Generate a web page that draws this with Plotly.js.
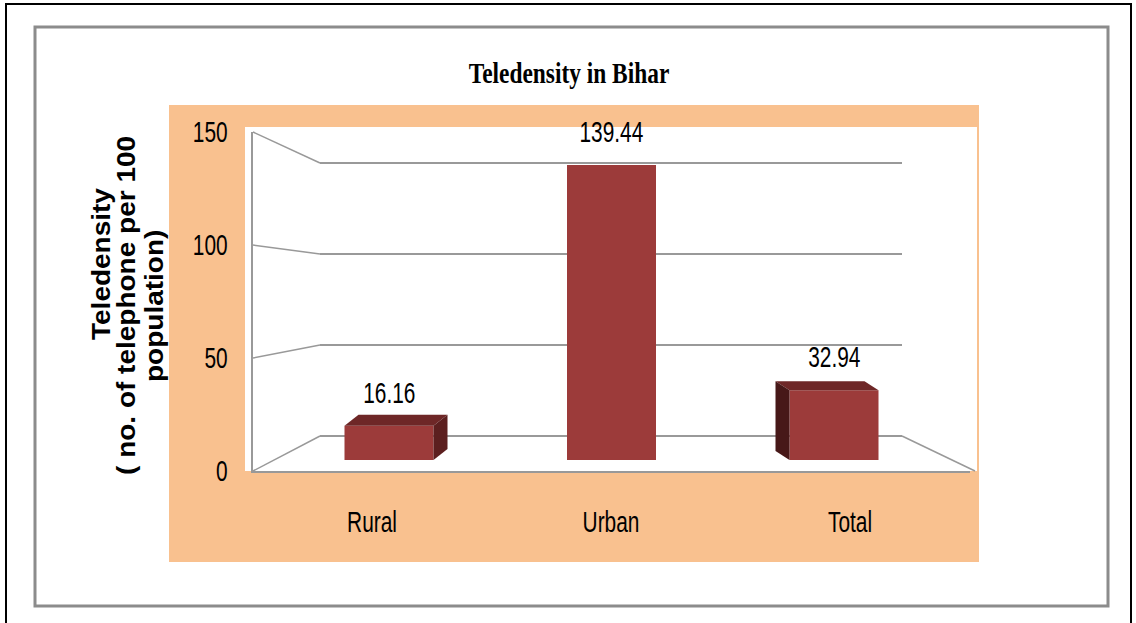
<!DOCTYPE html>
<html>
<head>
<meta charset="utf-8">
<script src="https://cdn.plot.ly/plotly-3.0.1.min.js"></script>
<style>
  html, body { margin: 0; padding: 0; background: #ffffff; }
  #chart { width: 1136px; height: 623px; }
</style>
</head>
<body>
<div id="chart"></div>
<script>
// ---- data ----
const categories = ['Rural', 'Urban', 'Total'];
const teledensity = [16.16, 139.44, 32.94];
const valueLabels = ['16.16', '139.44', '32.94'];
const yTicks = [0, 50, 100, 150];
const chartTitle = 'Teledensity in Bihar';
const yTitleLines = ['Teledensity', '( no. of telephone per 100', 'population)'];

// ---- geometry / style ----
const W = 1136, H = 623;
const px = x => x / W;
const py = y => 1 - y / H;
const sans = "'Liberation Sans', Arial, sans-serif";
const peach = '#f9c18f';
const gridCol = '#999999';
const frontCol = '#9c3b3a', topCol = '#6e2727', sideRight = '#5c1f1f', sideLeft = '#471818';

// bar (front face) scale: 0 at 460px, px per unit
const barZero = 460, barK = 295 / 139.44;
const barTopPx = 127, barBotPx = 471;
const catStep = 222.5, firstCentre = 389;
const barWidth = 0.4;
const depthDx = [14, 0, -14];
const depthUp = [11, 0, 9];

// front (label) plane and back wall
const fZero = 471, fTop = 132;
const bZero = 436, bK = 1.82;
const backLeft = 320, backRight = 902, frontLeft = 253, frontRight = 975;

// y-title line placement (page px)
const yTitleX = [101, 126, 154];
const yTitleY = [264, 306, 306];

const idx = categories.map((c, i) => i);

const traces = [
  { type: 'scatter', x: idx, y: teledensity, xaxis: 'x', yaxis: 'y', mode: 'markers',
    marker: { opacity: 0 }, hoverinfo: 'skip', showlegend: false },
  { type: 'bar', x: idx, y: teledensity, xaxis: 'x2', yaxis: 'y2', width: barWidth,
    marker: { color: frontCol, line: { width: 0 } }, hoverinfo: 'x+y', showlegend: false },
  { type: 'scatter', x: categories, y: teledensity, xaxis: 'x3', yaxis: 'y3', mode: 'markers',
    marker: { opacity: 0 }, hoverinfo: 'skip', showlegend: false }
];

const shapes = [];
shapes.push({ type: 'rect', xref: 'paper', yref: 'paper', x0: px(6), x1: px(1131), y0: py(640), y1: py(4),
  line: { color: '#000000', width: 2 }, layer: 'below' });
shapes.push({ type: 'rect', xref: 'paper', yref: 'paper', x0: px(35), x1: px(1108), y0: py(606), y1: py(27),
  line: { color: '#8c8c8c', width: 3 }, layer: 'below' });
shapes.push({ type: 'rect', xref: 'paper', yref: 'paper', x0: px(169), x1: px(979), y0: py(562), y1: py(105),
  fillcolor: peach, line: { width: 0 }, layer: 'below' });
shapes.push({ type: 'rect', xref: 'paper', yref: 'paper', x0: px(245), x1: px(977), y0: py(471), y1: py(127),
  fillcolor: '#ffffff', line: { width: 0 }, layer: 'below' });
yTicks.forEach(t => {
  const yf = fZero - t * (fZero - fTop) / 150;
  const yb = bZero - t * bK;
  shapes.push({ type: 'line', xref: 'paper', yref: 'paper', x0: px(frontLeft), y0: py(yf), x1: px(backLeft), y1: py(yb),
    line: { color: gridCol, width: 1.5 }, layer: 'below' });
});
shapes.push({ type: 'line', xref: 'paper', yref: 'paper', x0: px(backRight), y0: py(bZero), x1: px(frontRight), y1: py(fZero),
  line: { color: gridCol, width: 1.5 }, layer: 'below' });

teledensity.forEach((v, i) => {
  if (depthDx[i] === 0) return;
  const dx = depthDx[i] / catStep, dy = depthUp[i] / barK;
  const xl = i - barWidth / 2, xr = i + barWidth / 2;
  shapes.push({ type: 'path', xref: 'x2', yref: 'y2', fillcolor: topCol, line: { width: 0 }, layer: 'above',
    path: `M ${xl},${v} L ${xr},${v} L ${xr + dx},${v + dy} L ${xl + dx},${v + dy} Z` });
  const xe = dx > 0 ? xr : xl;
  shapes.push({ type: 'path', xref: 'x2', yref: 'y2', fillcolor: dx > 0 ? sideRight : sideLeft, line: { width: 0 }, layer: 'above',
    path: `M ${xe},${v} L ${xe + dx},${v + dy} L ${xe + dx},${dy} L ${xe},0 Z` });
});

const annotations = teledensity.map((v, i) => ({
  xref: 'x2', yref: 'y2', x: i, y: v, text: valueLabels[i], showarrow: false,
  yshift: 33, xanchor: 'center', yanchor: 'middle',
  font: { family: sans, size: 29, color: '#000000' }
}));
yTitleLines.forEach((line, i) => annotations.push({
  xref: 'paper', yref: 'paper', x: px(yTitleX[i]), y: py(yTitleY[i]), textangle: -90,
  text: '<b>' + line + '</b>', showarrow: false, align: 'center',
  xanchor: 'center', yanchor: 'middle',
  font: { family: sans, size: 28, color: '#000000' }
}));

const layout = {
  width: W, height: H,
  margin: { l: 0, r: 0, t: 0, b: 0, pad: 0 },
  paper_bgcolor: '#ffffff', plot_bgcolor: 'rgba(0,0,0,0)',
  showlegend: false, hovermode: false,
  title: { text: '<b>' + chartTitle + '</b>', x: px(569), y: py(73), xref: 'paper', yref: 'paper',
    xanchor: 'center', yanchor: 'middle',
    font: { family: "'Liberation Serif', 'Times New Roman', serif", size: 30, color: '#000000' } },
  xaxis: { domain: [px(backLeft), px(backRight)], range: [0, 2], showgrid: false, zeroline: false,
    showline: false, showticklabels: false, ticks: '', fixedrange: true },
  yaxis: { domain: [py(bZero + 2 * bK), py(bZero - 152 * bK)], range: [-2, 152], tickvals: yTicks,
    showgrid: true, gridcolor: gridCol, gridwidth: 1.5, zeroline: false, showline: false,
    showticklabels: false, ticks: '', fixedrange: true },
  xaxis2: { domain: [px(firstCentre - catStep / 2), px(firstCentre + 2.5 * catStep)], range: [-0.5, 2.5],
    anchor: 'y2', showgrid: false, zeroline: false, showline: false, showticklabels: false, ticks: '', fixedrange: true },
  yaxis2: { domain: [py(barBotPx), py(barTopPx)], range: [(barZero - barBotPx) / barK, (barZero - barTopPx) / barK],
    anchor: 'x2', showgrid: false, zeroline: false, showline: false, showticklabels: false, ticks: '', fixedrange: true },
  xaxis3: { domain: [px(252.5), px(969.5)], type: 'category', range: [-0.5, 2.5], anchor: 'y3',
    showgrid: false, zeroline: false, showline: true, linecolor: gridCol, linewidth: 2,
    ticks: 'outside', ticklen: 24, tickcolor: 'rgba(0,0,0,0)',
    tickfont: { family: sans, size: 29, color: '#000000' }, fixedrange: true },
  yaxis3: { domain: [py(fZero), py(fTop)], range: [0, 150], tickvals: yTicks, anchor: 'x3',
    showgrid: false, zeroline: false, showline: true, linecolor: gridCol, linewidth: 2,
    ticks: 'outside', ticklen: 17, tickcolor: 'rgba(0,0,0,0)',
    tickfont: { family: sans, size: 29, color: '#000000' }, fixedrange: true },
  shapes: shapes,
  annotations: annotations
};

// horizontally condense a drawn text element (narrow type, as in the reference)
function squishX(el, s, mode) {
  const svg = el.ownerSVGElement;
  const m = el.getCTM(), pm = el.parentNode.getCTM();
  if (!svg || !m || !pm) return;
  const bb = el.getBBox();
  const xs = [[bb.x, bb.y], [bb.x + bb.width, bb.y], [bb.x, bb.y + bb.height], [bb.x + bb.width, bb.y + bb.height]]
    .map(([x, y]) => m.a * x + m.c * y + m.e);
  const lo = Math.min(...xs), hi = Math.max(...xs);
  const ax = mode === 'end' ? hi : mode === 'start' ? lo : (lo + hi) / 2;
  const S = svg.createSVGMatrix().translate(ax, 0).scaleNonUniform(s, 1).translate(-ax, 0);
  const T = pm.inverse().multiply(S).multiply(m);
  el.transform.baseVal.initialize(el.transform.baseVal.createSVGTransformFromMatrix(T));
}

Plotly.newPlot('chart', traces, layout, { displayModeBar: false, staticPlot: true }).then(gd => {
  gd.querySelectorAll('.y3tick text').forEach(el => squishX(el, 0.72, 'end'));
  gd.querySelectorAll('.x3tick text').forEach(el => squishX(el, 0.72, 'middle'));
  const ann = gd.querySelectorAll('.annotation-text');
  ann.forEach((el, i) => squishX(el, i < teledensity.length ? 0.72 : 0.9, 'middle'));
  gd.querySelectorAll('.gtitle').forEach(el => squishX(el, 0.78, 'middle'));
});
</script>
</body>
</html>
